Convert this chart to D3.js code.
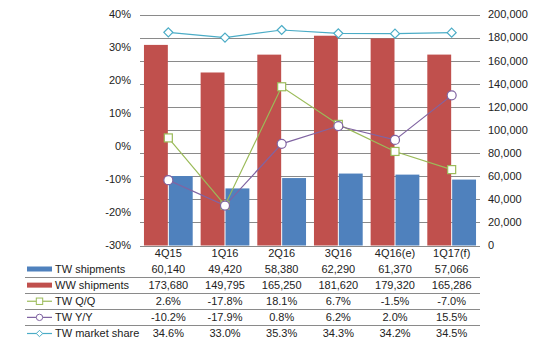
<!DOCTYPE html>
<html>
<head>
<meta charset="utf-8">
<script src="https://cdn.jsdelivr.net/npm/d3@7"></script>
<style>
  body { margin: 0; background: #fff; }
  text { font-family: "Liberation Sans", Arial, sans-serif; fill: #222; }
</style>
</head>
<body>
<div id="chart"></div>
<script>
// Chart data
var quarters = ["4Q15", "1Q16", "2Q16", "3Q16", "4Q16(e)", "1Q17(f)"];
var twShipments = [60140, 49420, 58380, 62290, 61370, 57066];
var wwShipments = [173680, 149795, 165250, 181620, 179320, 165286];
var twQQ = [2.6, -17.8, 18.1, 6.7, -1.5, -7.0];
var twYY = [-10.2, -17.9, 0.8, 6.2, 2.0, 15.5];
var twShare = [34.6, 33.0, 35.3, 34.3, 34.2, 34.5];
var leftTicks = [40, 30, 20, 10, 0, -10, -20, -30];
var rightTicks = [0, 20000, 40000, 60000, 80000, 100000, 120000, 140000, 160000, 180000, 200000];

var width = 539, height = 350;
var colBlue = "#4F81BD", colRed = "#C0504D", colGreen = "#9BBB59", colPurple = "#8064A2", colCyan = "#4BACC6";

var svg = d3.select("#chart").append("svg")
  .attr("width", width)
  .attr("height", height);

// Scales
var x = d3.scaleBand().domain(quarters).range([140, 480]).paddingInner(0.14).paddingOuter(0.07);
var xSub = d3.scaleBand().domain(["ww", "tw"]).range([0, x.bandwidth()]).paddingInner(0.04);
var yLeft = d3.scaleLinear().domain([-30, 40]).range([245.5, 14.5]);
var yRight = d3.scaleLinear().domain([0, 200000]).range([245.5, 14.5]);
var center = function(q) { return x(q) + x.bandwidth() / 2; };

// Gridlines (right axis)
svg.append("g").selectAll("line")
  .data(rightTicks)
  .enter().append("line")
  .attr("x1", 140).attr("x2", 480)
  .attr("y1", function(d) { return Math.round(yRight(d)) + 0.5; })
  .attr("y2", function(d) { return Math.round(yRight(d)) + 0.5; })
  .attr("stroke", "#8a8a8a")
  .attr("stroke-width", 1);

// Left axis labels
svg.append("g").selectAll("text")
  .data(leftTicks)
  .enter().append("text")
  .attr("x", 131)
  .attr("y", function(d) { return yLeft(d); })
  .attr("dy", "0.35em")
  .attr("text-anchor", "end")
  .style("font-size", "11px")
  .text(function(d) { return d + "%"; });

// Right axis labels
svg.append("g").selectAll("text")
  .data(rightTicks)
  .enter().append("text")
  .attr("x", 488)
  .attr("y", function(d) { return yRight(d); })
  .attr("dy", "0.35em")
  .style("font-size", "11px")
  .text(function(d) { return d3.format(",")(d); });

// Bars
svg.append("g").selectAll("rect")
  .data(quarters)
  .enter().append("rect")
  .attr("x", function(q) { return x(q) + xSub("ww"); })
  .attr("width", xSub.bandwidth())
  .attr("y", function(q, i) { return yRight(wwShipments[i]); })
  .attr("height", function(q, i) { return yRight(0) - yRight(wwShipments[i]); })
  .attr("fill", colRed);

svg.append("g").selectAll("rect")
  .data(quarters)
  .enter().append("rect")
  .attr("x", function(q) { return x(q) + xSub("tw"); })
  .attr("width", xSub.bandwidth())
  .attr("y", function(q, i) { return yRight(twShipments[i]); })
  .attr("height", function(q, i) { return yRight(0) - yRight(twShipments[i]); })
  .attr("fill", colBlue);

// Lines
function drawLine(values, color) {
  var line = d3.line()
    .x(function(d, i) { return center(quarters[i]); })
    .y(function(d) { return yLeft(d); });
  svg.append("path")
    .datum(values)
    .attr("d", line)
    .attr("fill", "none")
    .attr("stroke", color)
    .attr("stroke-width", 1.2);
}
drawLine(twShare, colCyan);
drawLine(twQQ, colGreen);
drawLine(twYY, colPurple);

function drawMarker(g, kind, cx, cy, color) {
  if (kind === "square") {
    g.append("rect").attr("x", cx - 4).attr("y", cy - 4).attr("width", 8).attr("height", 8)
      .attr("fill", "#fff").attr("stroke", color).attr("stroke-width", 1.2);
  } else if (kind === "circle") {
    g.append("circle").attr("cx", cx).attr("cy", cy).attr("r", 4.5)
      .attr("fill", "#fff").attr("stroke", color).attr("stroke-width", 1.2);
  } else {
    g.append("path").attr("d", "M" + cx + "," + (cy - 4.5) + "L" + (cx + 4.5) + "," + cy + "L" + cx + "," + (cy + 4.5) + "L" + (cx - 4.5) + "," + cy + "Z")
      .attr("fill", "#fff").attr("stroke", color).attr("stroke-width", 1.2);
  }
}

var markers = svg.append("g");
twShare.forEach(function(d, i) { drawMarker(markers, "diamond", center(quarters[i]), yLeft(d), colCyan); });
twQQ.forEach(function(d, i) { drawMarker(markers, "square", center(quarters[i]), yLeft(d), colGreen); });
twYY.forEach(function(d, i) { drawMarker(markers, "circle", center(quarters[i]), yLeft(d), colPurple); });

// Category labels
svg.append("g").selectAll("text")
  .data(quarters)
  .enter().append("text")
  .attr("x", center)
  .attr("y", 253)
  .attr("dy", "0.35em")
  .attr("text-anchor", "middle")
  .style("font-size", "11px")
  .text(function(d) { return d; });

// Data table
var rows = [
  { name: "TW shipments", values: twShipments, fmt: d3.format(","), key: "bar", color: colBlue },
  { name: "WW shipments", values: wwShipments, fmt: d3.format(","), key: "bar", color: colRed },
  { name: "TW Q/Q", values: twQQ, fmt: function(v) { return v.toFixed(1) + "%"; }, key: "square", color: colGreen },
  { name: "TW Y/Y", values: twYY, fmt: function(v) { return v.toFixed(1) + "%"; }, key: "circle", color: colPurple },
  { name: "TW market share", values: twShare, fmt: function(v) { return v.toFixed(1) + "%"; }, key: "diamond", color: colCyan }
];
var rowY = d3.scaleLinear().domain([0, 4]).range([269, 333.5]);

// separator lines between rows
svg.append("g").selectAll("line")
  .data([0, 1, 2, 3])
  .enter().append("line")
  .attr("x1", 25).attr("x2", 480)
  .attr("y1", function(d) { return Math.round(rowY(d + 0.5)) + 0.5; })
  .attr("y2", function(d) { return Math.round(rowY(d + 0.5)) + 0.5; })
  .attr("stroke", "#8a8a8a");

rows.forEach(function(r, ri) {
  var ry = rowY(ri);
  var g = svg.append("g");
  if (r.key === "bar") {
    g.append("rect").attr("x", 27).attr("y", ry - 2.5).attr("width", 25).attr("height", 5).attr("fill", r.color);
  } else {
    g.append("line").attr("x1", 27).attr("x2", 52).attr("y1", ry).attr("y2", ry)
      .attr("stroke", r.color).attr("stroke-width", 1.2);
    var s = 3.2;
    if (r.key === "square") {
      g.append("rect").attr("x", 39.5 - s).attr("y", ry - s).attr("width", 2 * s).attr("height", 2 * s)
        .attr("fill", "#fff").attr("stroke", r.color);
    } else if (r.key === "circle") {
      g.append("circle").attr("cx", 39.5).attr("cy", ry).attr("r", s).attr("fill", "#fff").attr("stroke", r.color);
    } else {
      g.append("path").attr("d", "M39.5," + (ry - s) + "L" + (39.5 + s) + "," + ry + "L39.5," + (ry + s) + "L" + (39.5 - s) + "," + ry + "Z")
        .attr("fill", "#fff").attr("stroke", r.color);
    }
  }
  g.append("text").attr("x", 55).attr("y", ry).attr("dy", "0.35em")
    .style("font-size", "11px").text(r.name);
  g.selectAll("text.val")
    .data(r.values)
    .enter().append("text")
    .attr("class", "val")
    .attr("x", function(d, i) { return center(quarters[i]); })
    .attr("y", ry)
    .attr("dy", "0.35em")
    .attr("text-anchor", "middle")
    .style("font-size", "11px")
    .text(function(d) { return r.fmt(d); });
});
</script>
</body>
</html>
